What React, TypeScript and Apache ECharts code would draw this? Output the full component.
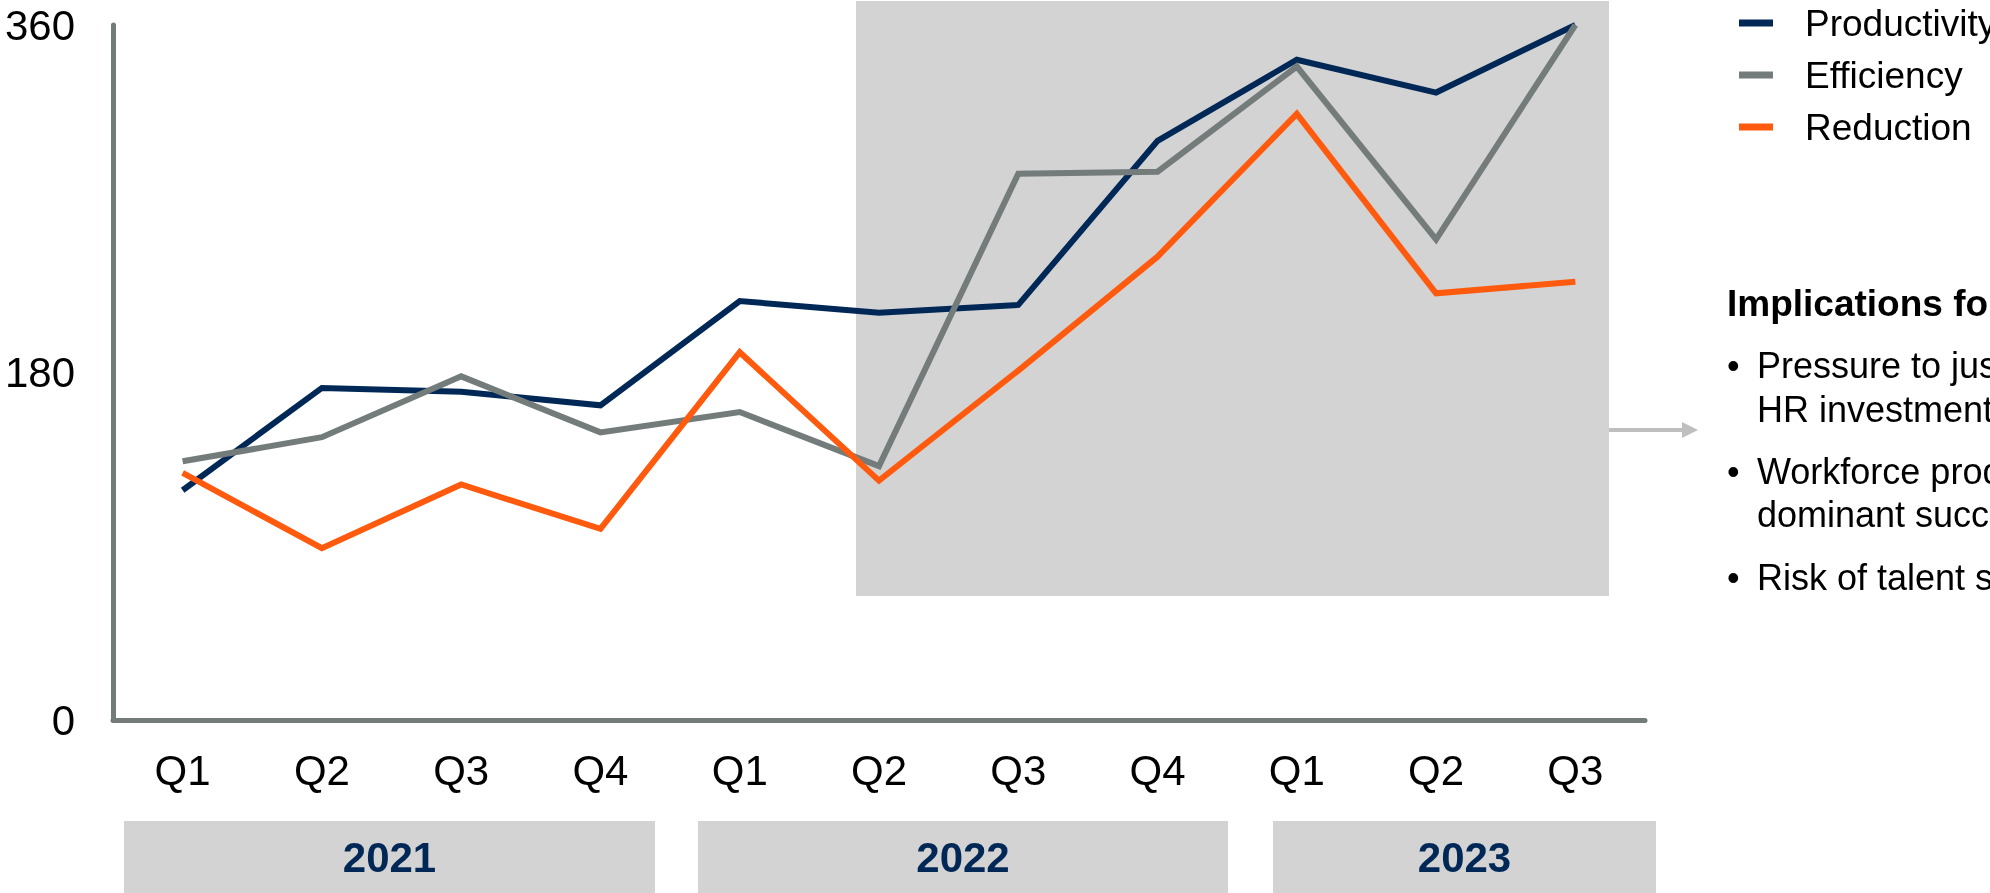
import React, { useEffect, useRef } from "react";
import * as echarts from "echarts";

const quarters = ["Q1", "Q2", "Q3", "Q4", "Q1", "Q2", "Q3", "Q4", "Q1", "Q2", "Q3"];
const productivity = [119, 172, 170, 163, 217, 211, 215, 300, 342, 325, 360];
const efficiency = [134, 146.5, 178, 149, 159.5, 131.5, 283, 284, 338.5, 249, 360];
const reduction = [128, 89, 122, 99, 190.5, 124, 181, 240, 314, 221, 227];
const seriesNames = ["Productivity", "Efficiency", "Reduction"];
const yTicks = [0, 180, 360];
const years = ["2021", "2022", "2023"];
const yearBoxes = [
  [124, 655],
  [698, 1228],
  [1273, 1656],
];
const noteTitle = "Implications for HR";
const noteLines = [
  ["Pressure to justify", "HR investments"],
  ["Workforce productivity as", "dominant success metric"],
  ["Risk of talent shortages"],
];

const NAVY = "#002857";
const GRAY = "#737B7B";
const ORANGE = "#FF5A0D";
const BOX = "#D3D3D3";
const FONT = "'Liberation Sans', Arial, Helvetica, sans-serif";

export default function App() {
  const ref = useRef<HTMLDivElement>(null);
  useEffect(() => {
    if (!ref.current) return;
    const chart = echarts.init(ref.current, null, { renderer: "svg" });

    const graphics: any[] = [];
    // highlight area
    graphics.push({
      type: "rect",
      z: 0,
      shape: { x: 856, y: 1, width: 753, height: 595 },
      style: { fill: BOX },
      silent: true,
    });
    // year boxes
    years.forEach((yr, i) => {
      const [x0, x1] = yearBoxes[i];
      graphics.push({
        type: "rect",
        shape: { x: x0, y: 821, width: x1 - x0, height: 80 },
        style: { fill: BOX },
      });
      graphics.push({
        type: "text",
        x: (x0 + x1) / 2,
        y: 857,
        style: {
          text: yr,
          fill: NAVY,
          font: `bold 42px ${FONT}`,
          align: "center",
          verticalAlign: "middle",
        },
      });
    });
    // arrow
    graphics.push({
      type: "line",
      shape: { x1: 1609, y1: 430, x2: 1685, y2: 430 },
      style: { stroke: "#BFBFBF", lineWidth: 4 },
    });
    graphics.push({
      type: "polygon",
      shape: { points: [[1682, 422], [1698, 430], [1682, 438]] },
      style: { fill: "#BFBFBF" },
    });
    // notes
    graphics.push({
      type: "text",
      x: 1727,
      y: 303,
      style: {
        text: noteTitle,
        fill: "#000",
        font: `bold 37px ${FONT}`,
        align: "left",
        verticalAlign: "middle",
      },
    });
    const lineYs = [[365, 409], [471, 514], [577]];
    noteLines.forEach((lines, i) => {
      graphics.push({
        type: "text",
        x: 1727,
        y: lineYs[i][0],
        style: {
          text: "•",
          fill: "#000",
          font: `36px ${FONT}`,
          align: "left",
          verticalAlign: "middle",
        },
      });
      lines.forEach((t, j) => {
        graphics.push({
          type: "text",
          x: 1757,
          y: lineYs[i][j],
          style: {
            text: t,
            fill: "#000",
            font: `36px ${FONT}`,
            align: "left",
            verticalAlign: "middle",
          },
        });
      });
    });

    const mk = (name: string, data: number[], color: string) => ({
      name,
      type: "line",
      data,
      symbol: "none",
      z: 3,
      lineStyle: { color, width: 6, join: "miter" },
      itemStyle: { color },
    });

    chart.setOption({
      animation: false,
      textStyle: { fontFamily: FONT },
      graphic: { elements: graphics },
      legend: {
        orient: "vertical",
        left: 1734,
        top: -2,
        itemWidth: 34,
        itemHeight: 7,
        itemGap: 12,
        icon: "rect",
        data: seriesNames,
        textStyle: {
          fontSize: 37,
          color: "#000",
          fontFamily: FONT,
          lineHeight: 40,
          padding: [0, 0, 0, 27],
        },
      },
      grid: { left: 113, right: 345, top: 25, bottom: 173 },
      xAxis: {
        type: "category",
        data: quarters,
        boundaryGap: true,
        axisLine: { lineStyle: { color: GRAY, width: 5 } },
        axisTick: { show: false },
        axisLabel: { fontSize: 42, color: "#000", margin: 29, interval: 0 },
        splitLine: { show: false },
      },
      yAxis: {
        type: "value",
        min: yTicks[0],
        max: yTicks[yTicks.length - 1],
        interval: yTicks[1] - yTicks[0],
        axisLine: { show: true, lineStyle: { color: GRAY, width: 5 } },
        axisTick: { show: false },
        axisLabel: { fontSize: 42, color: "#000", margin: 38 },
        splitLine: { show: false },
      },
      series: [
        mk(seriesNames[0], productivity, NAVY),
        mk(seriesNames[1], efficiency, GRAY),
        mk(seriesNames[2], reduction, ORANGE),
      ],
    });
    return () => chart.dispose();
  }, []);
  return (
    <div
      ref={ref}
      style={{ position: "fixed", left: 0, top: 0, width: 1990, height: 893 }}
    />
  );
}
